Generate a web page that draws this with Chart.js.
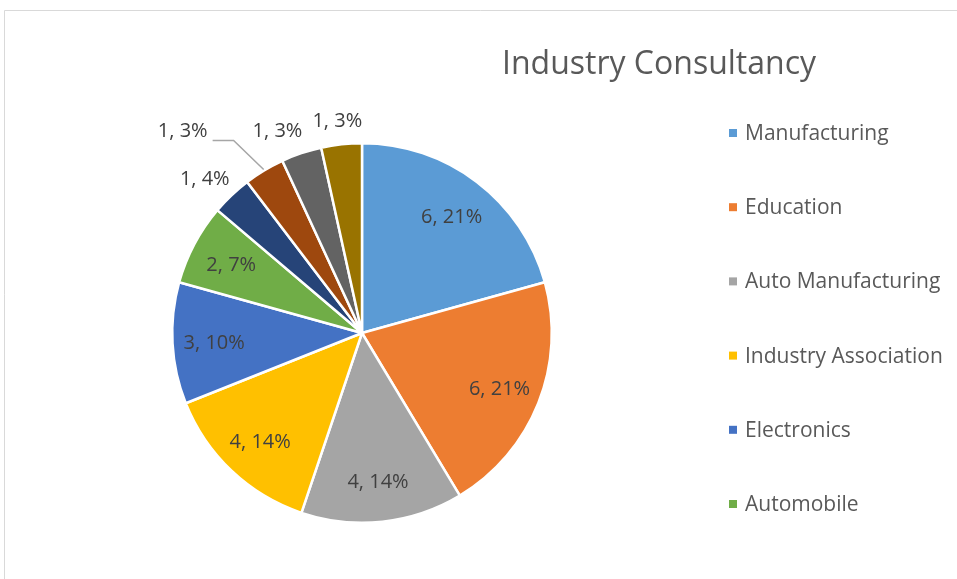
<!DOCTYPE html>
<html>
<head>
<meta charset="utf-8">
<script src="https://cdn.jsdelivr.net/npm/chart.js@4.4.0/dist/chart.umd.min.js"></script>
<style>
    html, body { margin: 0; padding: 0; background: #fff; }
    #wrap { position: absolute; left: 0; top: 0; width: 957px; height: 579px; }
</style>
</head>
<body>
<div id="wrap"><canvas id="industryChart" width="957" height="579"></canvas></div>
<script>
// Data
var categories = ['Manufacturing', 'Education', 'Auto Manufacturing', 'Industry Association',
    'Electronics', 'Automobile', 'Category 7', 'Category 8', 'Category 9', 'Category 10'];
var counts = [6, 6, 4, 4, 3, 2, 1, 1, 1, 1];
var sliceColors = ['#5B9BD5', '#ED7D31', '#A5A5A5', '#FFC000', '#4472C4', '#70AD47',
    '#264478', '#9E480E', '#636363', '#997300'];
var legendCount = 6; // the legend box only has room for the first six entries

var FONT = '"Open Sans", "Liberation Sans", sans-serif';

// percentages rounded so they add up to 100 (largest remainder, like Excel)
function roundedPercents(values) {
    var total = values.reduce(function(a, b) { return a + b; }, 0);
    var raw = values.map(function(v) { return v / total * 100; });
    var out = raw.map(Math.floor);
    var left = 100 - out.reduce(function(a, b) { return a + b; }, 0);
    var order = raw.map(function(v, i) { return i; })
        .sort(function(a, b) { return (raw[b] - Math.floor(raw[b])) - (raw[a] - Math.floor(raw[a])) || a - b; });
    for (var k = 0; k < left; k++) out[order[k]]++;
    return out;
}
var percents = roundedPercents(counts);

// frame, title and legend
var framePlugin = {
    id: 'frame',
    beforeDraw: function(chart) {
        var ctx = chart.ctx;
        ctx.save();
        ctx.fillStyle = '#fff';
        ctx.fillRect(0, 0, chart.width, chart.height);
        ctx.strokeStyle = '#d9d9d9';
        ctx.lineWidth = 1;
        ctx.beginPath();
        ctx.moveTo(4.5, chart.height);
        ctx.lineTo(4.5, 10.5);
        ctx.lineTo(chart.width, 10.5);
        ctx.stroke();
        ctx.restore();
    },
    afterDraw: function(chart) {
        var ctx = chart.ctx;
        ctx.save();
        ctx.fillStyle = '#595959';
        ctx.font = '32px ' + FONT;
        ctx.textAlign = 'center';
        ctx.textBaseline = 'middle';
        ctx.fillText('Industry Consultancy', 659, 65);

        ctx.textAlign = 'left';
        ctx.font = '21px ' + FONT;
        for (var i = 0; i < legendCount; i++) {
            var y = 133 + i * 74.2;
            ctx.fillStyle = sliceColors[i];
            ctx.fillRect(729, y - 4, 8, 8);
            ctx.fillStyle = '#595959';
            ctx.fillText(categories[i], 745, y + 1);
        }
        ctx.restore();
    }
};

// data labels: inside for big slices, outside (with collision handling) for small ones
var labelPlugin = {
    id: 'sliceLabels',
    afterDatasetsDraw: function(chart) {
        var ctx = chart.ctx;
        var arcs = chart.getDatasetMeta(0).data;
        ctx.save();
        ctx.font = '20px ' + FONT;
        ctx.fillStyle = '#404040';
        ctx.textAlign = 'center';
        ctx.textBaseline = 'middle';
        var h = 22, gap = 10, pad = 8;
        var placed = [];
        var outside = [];
        arcs.forEach(function(arc, i) {
            var text = counts[i] + ', ' + percents[i] + '%';
            var mid = (arc.startAngle + arc.endAngle) / 2;
            if (percents[i] >= 5) {
                var d = arc.outerRadius * 0.78;
                ctx.fillText(text, arc.x + Math.cos(mid) * d, arc.y + Math.sin(mid) * d + 2);
            } else {
                outside.push({ i: i, arc: arc, mid: mid, text: text });
            }
        });
        // last slices first (closest to 12 o'clock)
        outside.reverse().forEach(function(o) {
            var w = ctx.measureText(o.text).width;
            var ar = o.arc.outerRadius + 14;
            var cx = o.arc.x + Math.cos(o.mid) * ar + Math.cos(o.mid) * w / 2;
            var cy = o.arc.y + Math.sin(o.mid) * ar + Math.sin(o.mid) * h / 2 + 2;
            var box = { x: cx, y: cy, w: w, leader: false };
            placed.forEach(function(p) {
                var overlapX = Math.abs(box.x - p.x) < (box.w + p.w) / 2 + pad;
                var overlapY = Math.abs(box.y - p.y) < h;
                if (overlapX && overlapY) {
                    var shift = box.x - (p.x - p.w / 2 - gap - box.w / 2);
                    if (shift < box.w * 0.4) {
                        box.x -= shift;
                    } else {
                        box.y = p.y;
                        box.x = p.x - p.w / 2 - 45 - box.w / 2;
                        box.leader = true;
                    }
                }
            });
            if (box.leader) {
                var sx = o.arc.x + Math.cos(o.mid) * (o.arc.outerRadius + 1);
                var sy = o.arc.y + Math.sin(o.mid) * (o.arc.outerRadius + 1);
                var ly = box.y + 9;
                ctx.save();
                ctx.strokeStyle = '#a6a6a6';
                ctx.lineWidth = 1.5;
                ctx.beginPath();
                ctx.moveTo(sx, sy);
                ctx.lineTo(box.x + box.w / 2 + 26, ly);
                ctx.lineTo(box.x + box.w / 2 + 5, ly);
                ctx.stroke();
                ctx.restore();
            }
            ctx.fillText(o.text, box.x, box.y);
            placed.push(box);
        });
        ctx.restore();
    }
};

var ctxIndustry = document.getElementById('industryChart').getContext('2d');
var industryChart = new Chart(ctxIndustry, {
    type: 'pie',
    data: {
        labels: categories,
        datasets: [{
            data: counts,
            backgroundColor: sliceColors,
            borderColor: '#ffffff',
            borderWidth: 2.5
        }]
    },
    options: {
        responsive: false,
        animation: false,
        layout: {
            padding: { left: 171, right: 404, top: 142, bottom: 55 }
        },
        plugins: {
            legend: { display: false },
            title: { display: false },
            tooltip: { enabled: false }
        }
    },
    plugins: [framePlugin, labelPlugin]
});
</script>
</body>
</html>
